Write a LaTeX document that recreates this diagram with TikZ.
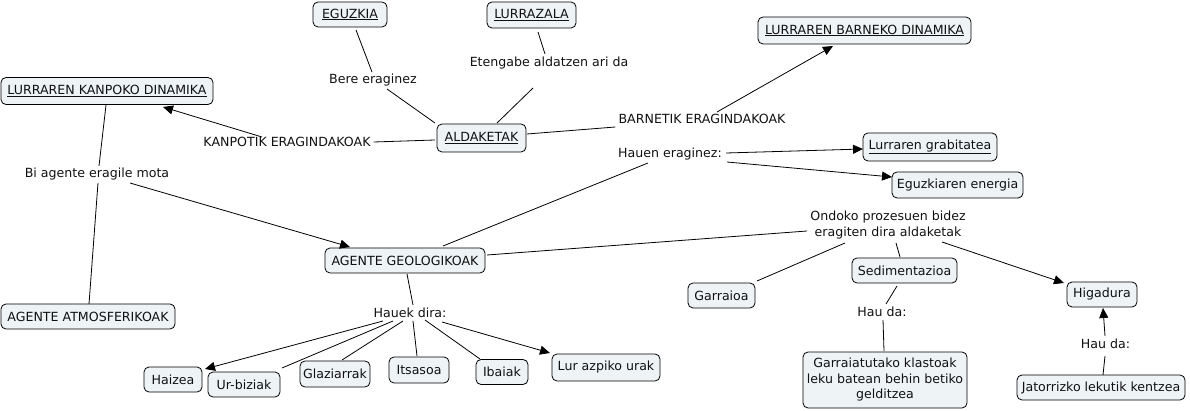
\documentclass[tikz,border=0pt]{standalone}
\usepackage{fontspec}
\setmainfont{DejaVu Sans}
\usetikzlibrary{arrows.meta,calc}
\definecolor{boxfill}{HTML}{EEF3F6}
\definecolor{txt}{HTML}{111111}
\newcommand{\ul}[1]{\underline{#1}}
\tikzset{
  box/.style={draw=black, rounded corners=5pt, fill=boxfill, minimum height=25pt,
    inner sep=0pt, text=txt, line width=0.8pt, align=center},
  lbl/.style={inner sep=0pt, text=txt, align=center},
  conn/.style={line width=0.8pt, black},
  arr/.style={conn, -{Triangle[length=10pt,width=9pt]}},
}
\begin{document}
\begin{tikzpicture}[x=1pt,y=-1pt,font=\fontsize{12.6}{15.5}\selectfont]
\useasboundingbox (0,0) rectangle (1190,411);
% concept boxes
\node[box,minimum width=74pt] (eguz) at (350,14.5) {\ul{EGUZKIA}};
\node[box,minimum width=89pt,minimum height=26pt] (lurz) at (531.5,15) {\ul{LURRAZALA}};
\node[box,minimum width=213pt,minimum height=27pt] (bar) at (864.5,30.5) {\ul{LURRAREN BARNEKO DINAMIKA}};
\node[box,minimum width=212pt,minimum height=27pt] (kan) at (107,91) {\ul{LURRAREN KANPOKO DINAMIKA}};
\node[box,minimum width=89pt,minimum height=28pt] (ald) at (481.5,138) {\ul{ALDAKETAK}};
\node[box,minimum width=134pt,minimum height=28pt] (grab) at (930,147) {\ul{Lurraren grabitatea}};
\node[box,minimum width=131pt,minimum height=26pt] (ener) at (957.5,185) {Eguzkiaren energia};
\node[box,minimum width=160pt] (geo) at (405,260.5) {AGENTE GEOLOGIKOAK};
\node[box,minimum width=174pt] (atm) at (88,316.5) {AGENTE ATMOSFERIKOAK};
\node[box,minimum width=67pt] (garr) at (721.5,295.5) {Garraioa};
\node[box,minimum width=105pt] (sed) at (904.5,270.5) {Sedimentazioa};
\node[box,minimum width=70pt] (hig) at (1102,294.5) {Higadura};
\node[box,minimum width=164pt,minimum height=56pt] (gkl) at (885,380) {Garraiatutako klastoak\\leku batean behin betiko\\gelditzea};
\node[box,minimum width=168pt] (jat) at (1101,387.5) {Jatorrizko lekutik kentzea};
\node[box,minimum width=58pt] (haiz) at (173,379.5) {Haizea};
\node[box,minimum width=72pt] (urb) at (244,384.5) {Ur-biziak};
\node[box,minimum width=70pt,minimum height=26pt] (glaz) at (335,374) {Glaziarrak};
\node[box,minimum width=60pt,minimum height=26pt] (its) at (419,370) {Itsasoa};
\node[box,minimum width=52pt] (iba) at (502,372) {Ibaiak};
\node[box,minimum width=108pt,minimum height=27pt] (lur) at (606,367.5) {Lur azpiko urak};
% linking phrases
\node[lbl] (bere) at (373,80) {Bere eraginez};
\node[lbl] (eten) at (549,63) {Etengabe aldatzen ari da};
\node[lbl] (kanp) at (287,142) {KANPOTIK ERAGINDAKOAK};
\node[lbl] (barn) at (702,119) {BARNETIK ERAGINDAKOAK};
\node[lbl] (hauen) at (670,154) {Hauen eraginez:};
\node[lbl] (bi) at (97,174) {Bi agente eragile mota};
\node[lbl] (ondo) at (888,225) {Ondoko prozesuen bidez\\eragiten dira aldaketak};
\node[lbl] (hauek) at (410,313) {Hauek dira:};
\node[lbl] (hau1) at (882,312) {Hau da:};
\node[lbl] (hau2) at (1105.5,344) {Hau da:};
% connectors
\draw[conn] ($(eguz)+(6,15.5)$) -- ($(bere)+(-1,-8)$);
\draw[conn] ($(bere)+(14,9)$) -- ($(ald)+(-46.5,-15)$);
\draw[conn] ($(lurz)+(6.5,17)$) -- ($(eten)+(-4,-9)$);
\draw[conn] ($(eten)+(-16,25)$) -- ($(ald)+(15.5,-15)$);
\draw[conn] ($(ald)+(-46.5,2)$) -- ($(kanp.east)+(3,0)$);
\draw[arr] ($(kanp)+(-25,-5)$) -- ($(kan)+(56,16)$);
\draw[conn] ($(ald)+(45.5,-4)$) -- ($(barn.west)+(-3,8)$);
\draw[arr] ($(barn)+(15,-7)$) -- ($(bar)+(-31.5,15.5)$);
\draw[conn] ($(geo)+(38,-14.5)$) -- ($(hauen)+(-22,9)$);
\draw[arr] ($(hauen.east)+(4,-1)$) -- ($(grab)+(-67,2)$);
\draw[arr] ($(hauen.east)+(5,8)$) -- ($(ener)+(-65.5,-8)$);
\draw[conn] ($(kan)+(-1,14)$) -- ($(bi)+(2,-8)$);
\draw[conn] ($(bi)+(1,9)$) -- ($(atm)+(1,-12.5)$);
\draw[arr] ($(bi)+(33,9)$) -- ($(geo)+(-55,-13.5)$);
\draw[conn] ($(geo)+(82,-5.5)$) -- ($(ondo)+(-81,6)$);
\draw[conn] ($(ondo)+(-43,18)$) -- ($(garr)+(35.5,-14.5)$);
\draw[conn] ($(ondo)+(8,18)$) -- ($(sed)+(-4.5,-13.5)$);
\draw[arr] ($(ondo)+(54,17)$) -- ($(hig)+(-38,-11.5)$);
\draw[conn] ($(sed)+(-7.5,15.5)$) -- ($(hau1)+(4,-8)$);
\draw[conn] ($(hau1)+(1,8)$) -- ($(gkl)+(-1,-29)$);
\draw[conn] ($(jat)+(2,-12.5)$) -- ($(hau2)+(-0.5,12)$);
\draw[arr] ($(hau2)+(-0.5,-8)$) -- ($(hig)+(1,13.5)$);
\draw[conn] ($(geo)+(2,13.5)$) -- ($(hauek)+(3,-8)$);
\draw[arr] ($(hauek)+(-27,8)$) -- ($(haiz)+(32,-10.5)$);
\draw[conn] ($(hauek)+(-17,8)$) -- ($(urb)+(38,-16.5)$);
\draw[conn] ($(hauek)+(-7,8)$) -- ($(glaz)+(7,-14)$);
\draw[conn] ($(hauek)+(3,8)$) -- ($(its)+(-2,-14)$);
\draw[conn] ($(hauek)+(15,7)$) -- ($(iba)+(-22,-13)$);
\draw[arr] ($(hauek)+(32,9)$) -- ($(lur)+(-56,-14.5)$);
\end{tikzpicture}
\end{document}
